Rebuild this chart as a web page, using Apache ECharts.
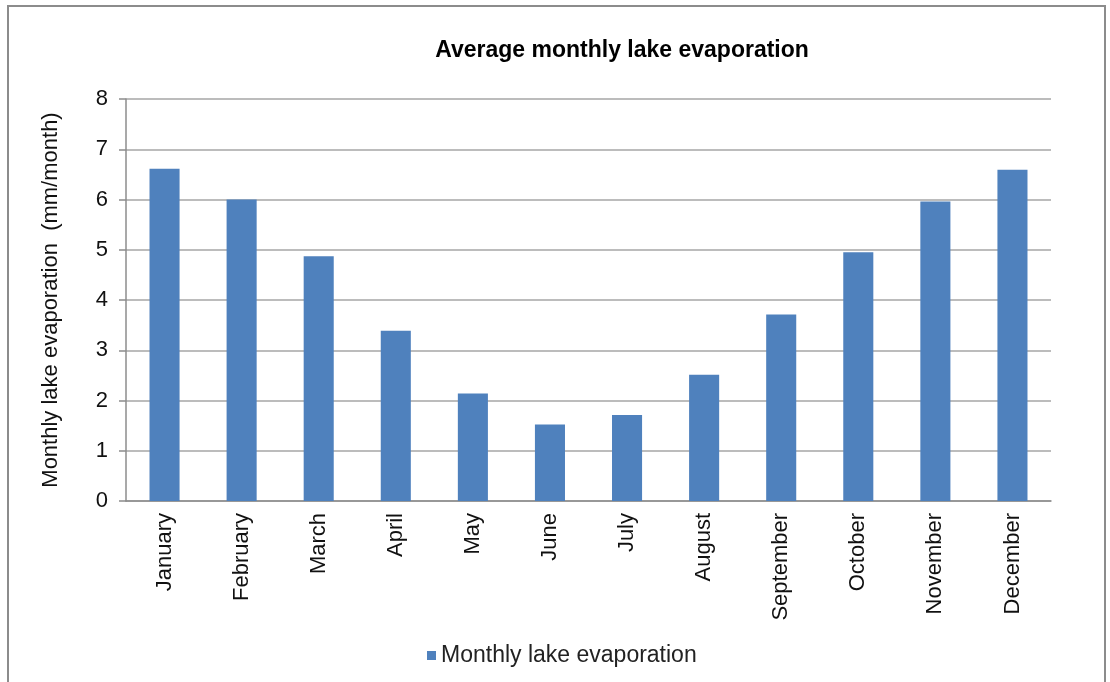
<!DOCTYPE html>
<html>
<head>
<meta charset="utf-8">
<title>Average monthly lake evaporation</title>
<script src="https://cdn.jsdelivr.net/npm/echarts@6/dist/echarts.min.js"></script>
<style>
	html, body { margin: 0; padding: 0; background: #fff; overflow: hidden; }
	#frame { position: absolute; left: 7px; top: 5px; width: 1095px; height: 700px;
		border: 2px solid #8c8c8c; border-bottom: none; }
	#chart { position: absolute; left: 0; top: 0; width: 1110px; height: 682px; }
</style>
</head>
<body>
<div id="frame"></div>
<div id="chart"></div>
<script>
// data
var months = ["January", "February", "March", "April", "May", "June",
	"July", "August", "September", "October", "November", "December"];
var evaporation = [6.61, 6.0, 4.87, 3.39, 2.14, 1.52, 1.71, 2.51, 3.71, 4.95, 5.96, 6.59];
var yTicks = [0, 1, 2, 3, 4, 5, 6, 7, 8];

var seriesName = "Monthly lake evaporation";
var font = "Liberation Sans, Arial, sans-serif";

var myChart = echarts.init(document.getElementById('chart'));
myChart.setOption({
	animation: false,
	textStyle: { fontFamily: font },
	title: {
		text: "Average monthly lake evaporation",
		left: 617,
		top: 34,
		textAlign: 'center',
		textStyle: { fontSize: 23, fontWeight: 'bold', color: '#000', fontFamily: font }
	},
	legend: {
		data: [seriesName],
		left: 422,
		top: 639,
		itemWidth: 9,
		itemHeight: 9,
		itemGap: 5,
		icon: 'rect',
		textStyle: { fontSize: 23, color: '#222', fontFamily: font }
	},
	grid: { left: 126, right: 59, top: 99, bottom: 181, containLabel: false },
	xAxis: {
		type: 'category',
		data: months,
		axisLine: { lineStyle: { color: '#8c8c8c', width: 1.5 } },
		axisTick: { show: false },
		axisLabel: { rotate: 90, fontSize: 22, color: '#111', margin: 12, fontFamily: font, interval: 0 }
	},
	yAxis: {
		type: 'value',
		name: "Monthly lake evaporation  (mm/month)",
		nameLocation: 'middle',
		nameGap: 64,
		nameTextStyle: { fontSize: 22, color: '#111', fontFamily: font },
		min: yTicks[0],
		max: yTicks[yTicks.length - 1],
		interval: yTicks[1] - yTicks[0],
		axisLine: { show: true, lineStyle: { color: '#8c8c8c', width: 1.5 } },
		axisTick: { show: true, length: 7, lineStyle: { color: '#8c8c8c', width: 1.5 } },
		axisLabel: { fontSize: 22, color: '#111', margin: 18, fontFamily: font },
		splitLine: { lineStyle: { color: '#a6a6a6', width: 1.5 } }
	},
	series: [{
		name: seriesName,
		type: 'bar',
		data: evaporation,
		barWidth: '39%',
		itemStyle: { color: '#4f81bd' }
	}]
});
</script>
</body>
</html>
